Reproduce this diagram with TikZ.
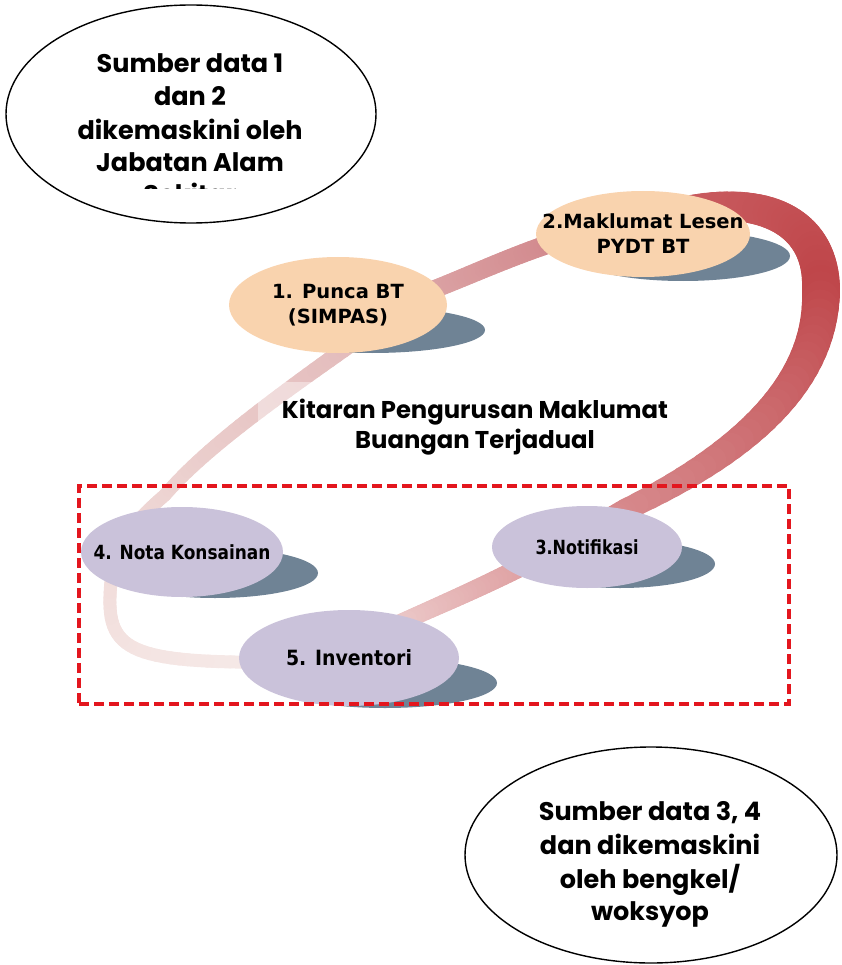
\documentclass[tikz,border=0pt]{standalone}
\usepackage{fontspec}
\usepackage{graphicx}
\setmainfont{DejaVu Sans}
\newfontfamily\gothic{Poppins}
\usetikzlibrary{shapes.geometric}
\definecolor{peach}{HTML}{F9D3AE}
\definecolor{lilac}{HTML}{CAC2DA}
\definecolor{slate}{HTML}{6F8395}
\definecolor{boxred}{HTML}{E3161E}
\newcommand\ribbonpiece[9]{%
  \path #2 .. controls #3 and #4 .. #5 foreach \k in {0,...,30} {coordinate[pos=\k/30] (#1-\k)};
  \foreach \k in {1,...,30}{%
    \pgfmathtruncatemacro\kp{\k-1}%
    \pgfmathsetmacro\ww{#6+(#7-#6)*(\k-0.5)/30}%
    \pgfmathsetmacro\cc{100*(\k-0.5)/30}%
    \draw[line width=\ww pt, line cap=round, color=#9!\cc!#8] (#1-\kp) -- (#1-\k);
  }%
}
\tikzset{
  stage/.style={ellipse, inner sep=0pt},
  stagetext/.style={font=\bfseries\fontsize{19.5}{25}\selectfont, align=center, inner sep=0pt},
  warm/.style={stage, fill=peach},
  cool/.style={stage, fill=lilac},
  shade/.style={ellipse, inner sep=0pt, fill=slate},
  bubble/.style={ellipse, draw=black, line width=1.4pt, fill=white, inner sep=0pt},
  gtext/.style={font=\gothic\bfseries\fontsize{25.5}{30}\selectfont, anchor=base, inner sep=0pt},
  ttext/.style={font=\gothic\bfseries\fontsize{24.3}{30}\selectfont, anchor=base, inner sep=0pt},
}
\begin{document}
\begin{tikzpicture}[x=1pt,y=-1pt]
\useasboundingbox (0,0) rectangle (842,965);
% ribbon loop
\definecolor{r0}{HTML}{F6EAE8}
\definecolor{r1}{HTML}{F2DFDD}
\definecolor{r2}{HTML}{EDD4D2}
\definecolor{r3}{HTML}{E4BDBD}
\definecolor{r4}{HTML}{DBA2A4}
\definecolor{r5}{HTML}{D28A8E}
\definecolor{r6}{HTML}{C85A5E}
\definecolor{r7}{HTML}{BF464A}
\definecolor{r8}{HTML}{D6878A}
\definecolor{r9}{HTML}{DE9EA0}
\definecolor{r10}{HTML}{EBC7C7}
\ribbonpiece{ra}{(300,662)}{(140,664)}{(108,655)}{(110,597)}{13}{13}{r0}{r1}
\ribbonpiece{rb}{(110,597)}{(111,550)}{(130,525)}{(165,495)}{13}{13}{r1}{r2}
\ribbonpiece{rc}{(165,495)}{(205,448)}{(280,395)}{(350,345)}{13}{16}{r2}{r3}
\ribbonpiece{rd}{(350,345)}{(380,320)}{(410,298)}{(440,287)}{16}{18}{r3}{r4}
\ribbonpiece{re}{(440,287)}{(475,273)}{(515,255)}{(555,242)}{18}{19}{r4}{r5}
\ribbonpiece{rf}{(555,242)}{(610,222)}{(660,212)}{(705,207)}{20}{28}{r5}{r6}
\ribbonpiece{rg}{(705,207)}{(780,200)}{(822,232)}{(821,290)}{28}{38}{r6}{r7}
\ribbonpiece{rh}{(821,290)}{(822,380)}{(750,450)}{(625,510)}{38}{22}{r7}{r8}
\ribbonpiece{ri}{(625,510)}{(590,530)}{(555,550)}{(525,565)}{22}{19}{r8}{r9}
\ribbonpiece{rj}{(525,565)}{(480,588)}{(440,605)}{(395,625)}{19}{17}{r9}{r10}
\ribbonpiece{rk}{(395,625)}{(360,642)}{(330,658)}{(300,662)}{17}{13}{r10}{r0}
% translucent panel behind the title
\fill[white, opacity=0.4] (258,382) rectangle (688,458);
% shadows
\node[shade, minimum width=226pt, minimum height=46pt] (s1) at (372,330) {};
\node[shade, minimum width=214pt, minimum height=50pt] (s2) at (683,256) {};
\node[shade, minimum width=190pt, minimum height=48pt] (s3) at (620,564) {};
\node[shade, minimum width=206pt, minimum height=50pt] (s4) at (215,573) {};
\node[shade, minimum width=224pt, minimum height=50pt] (s5) at (385,683) {};
% stages
\node[warm, minimum width=218pt, minimum height=96pt,
  label={[stagetext]center:{1. Punca BT\\(SIMPAS)}}] (n1) at (338,305) {};
\node[warm, minimum width=214pt, minimum height=86pt,
  label={[stagetext]center:{2.Maklumat Lesen\\PYDT BT}}] (n2) at (643,234) {};
\node[cool, minimum width=190pt, minimum height=82pt,
  label={[stagetext]center:{\scalebox{0.82}[1]{3.Notifikasi}}}] (n3) at (587,547) {};
\node[cool, minimum width=202pt, minimum height=90pt,
  label={[stagetext]center:{\scalebox{0.87}[1]{4. Nota Konsainan}}}] (n4) at (182,552) {};
\node[cool, minimum width=220pt, minimum height=96pt,
  label={[stagetext, font=\bfseries\fontsize{21}{25}\selectfont]center:{\scalebox{0.9}[1]{5. Inventori}}}] (n5) at (349,658) {};
% dashed frame
\node[draw=boxred, line width=3.5pt, dash pattern=on 10pt off 5pt, minimum width=710pt, minimum height=218pt, inner sep=0pt] (frame) at (434,595) {};
% title
\node[ttext] (t1) at (475,418) {Kitaran Pengurusan Maklumat};
\node[ttext] (t2) at (475,448) {Buangan Terjadual};
% source bubbles
\node[bubble, minimum width=370pt, minimum height=218pt] (b1) at (191,114) {};
\node[gtext] (b1a) at (190,73) {Sumber data 1};
\node[gtext] (b1b) at (190,106) {dan 2};
\node[gtext] (b1c) at (190,140) {dikemaskini oleh};
\node[gtext] (b1d) at (190,172) {Jabatan Alam};
\begin{scope}
\clip (0,0) rectangle (842,189);
\node[gtext] (b1e) at (190,204) {Sekitar};
\end{scope}
\node[bubble, minimum width=372pt, minimum height=216pt] (b2) at (651,855) {};
\node[gtext] (b2a) at (650,820) {Sumber data 3, 4};
\node[gtext] (b2b) at (650,854) {dan dikemaskini};
\node[gtext] (b2c) at (650,888) {oleh bengkel/};
\node[gtext] (b2d) at (650,920) {woksyop};
\end{tikzpicture}
\end{document}
